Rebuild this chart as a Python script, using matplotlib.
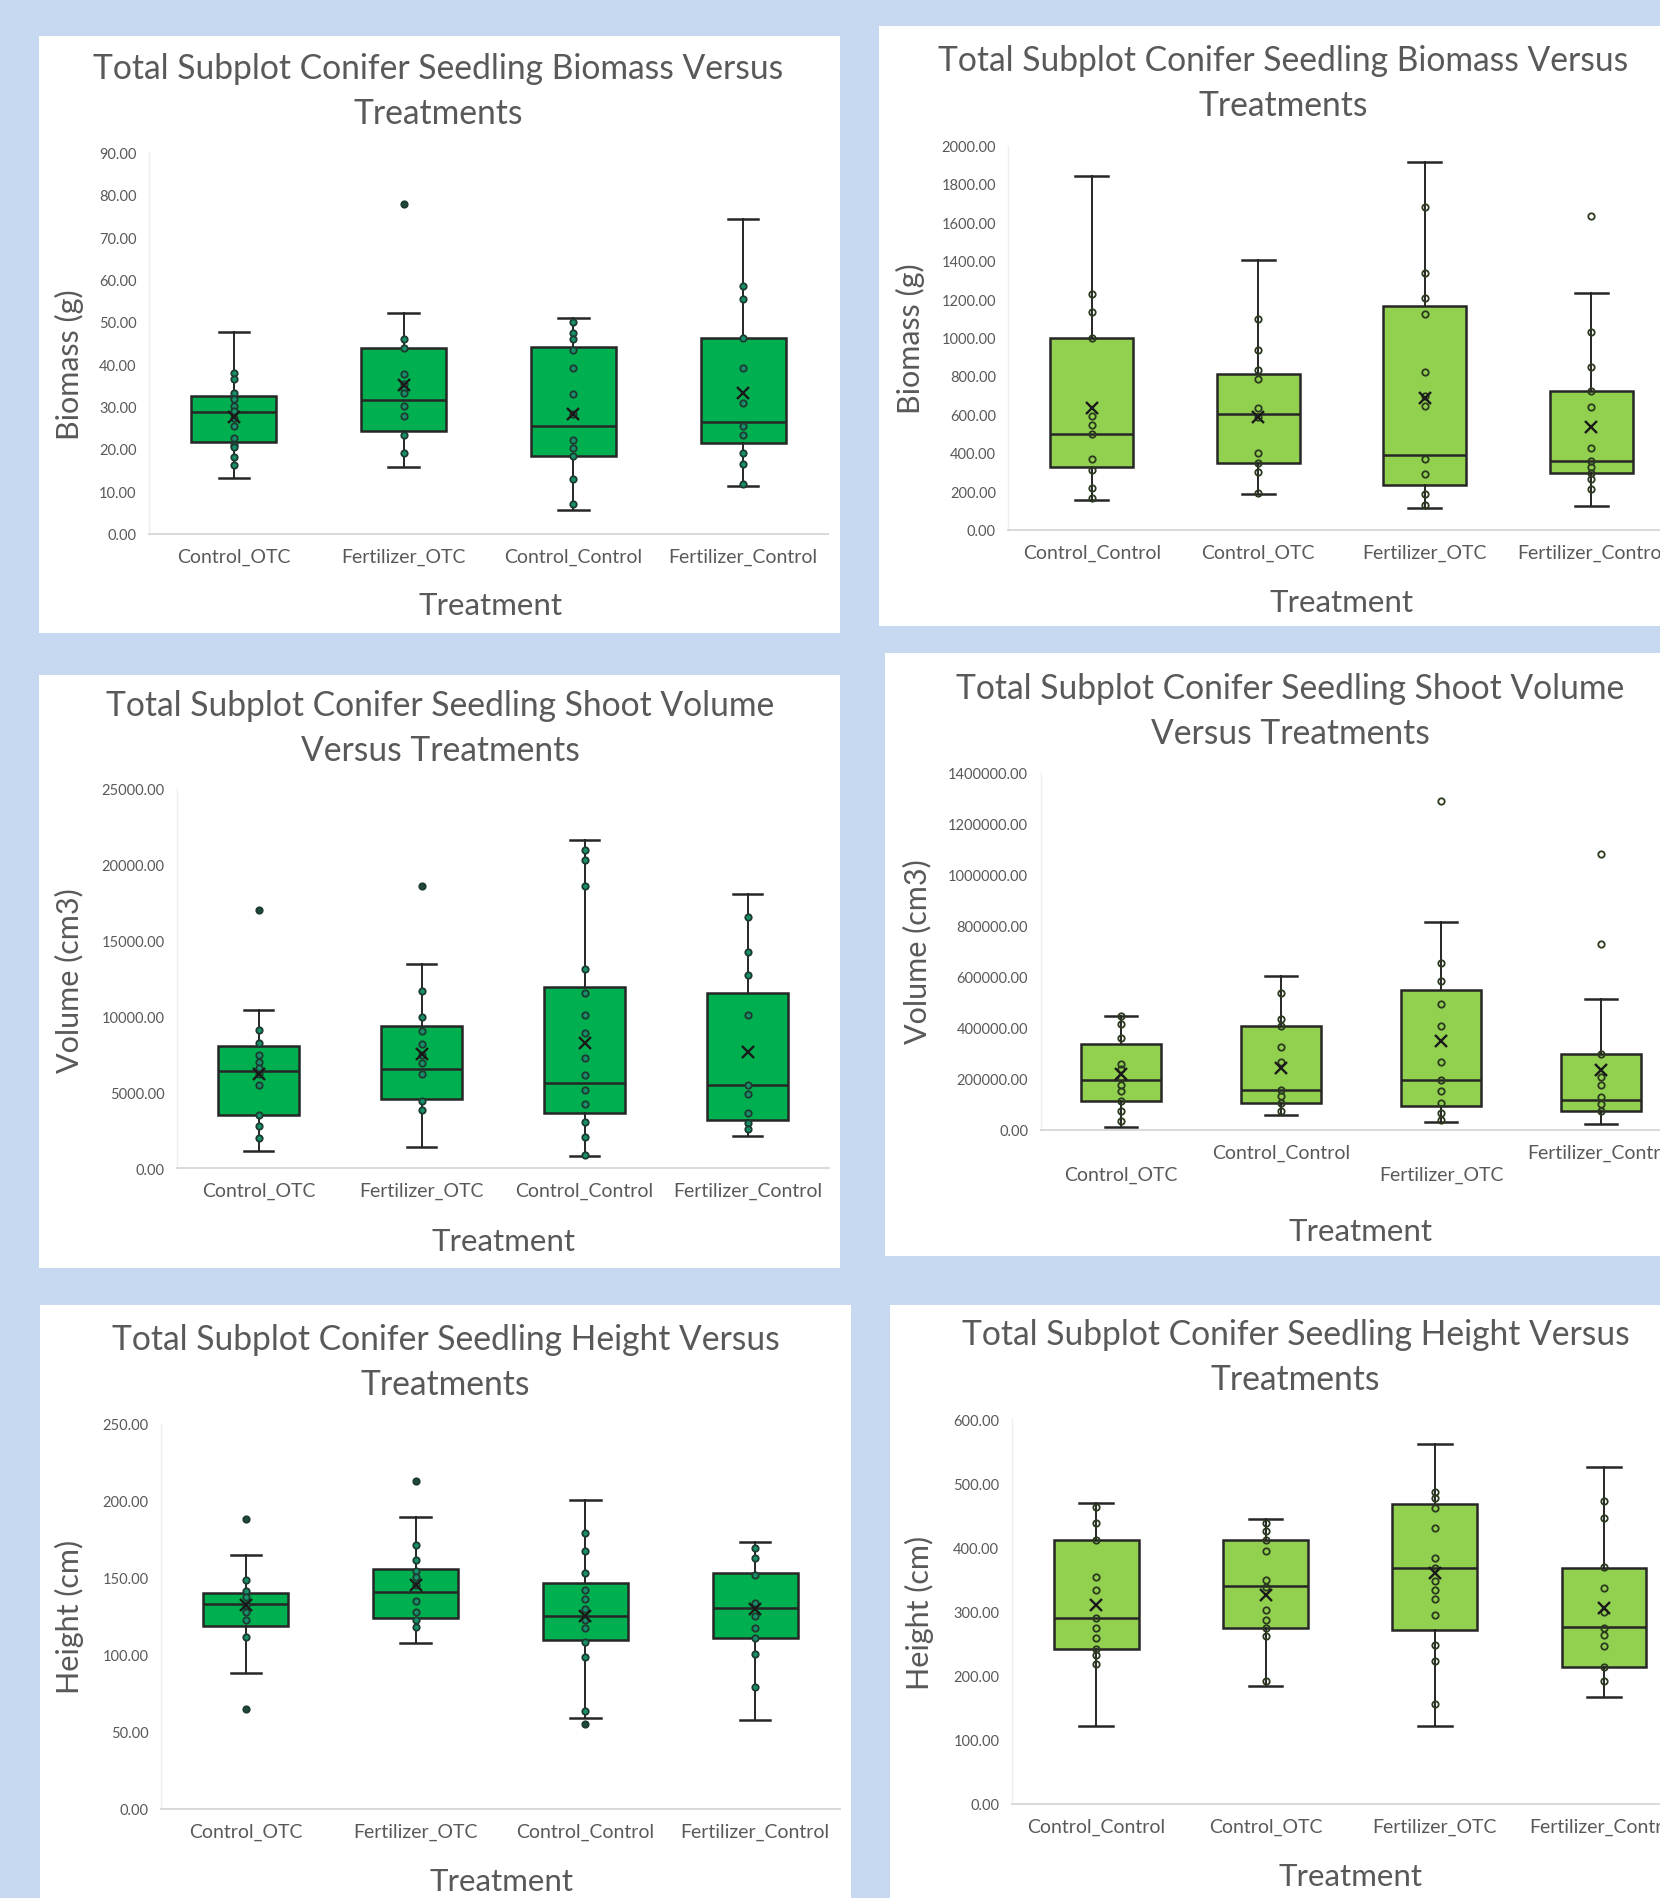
import numpy as np
import matplotlib
matplotlib.use('Agg')
import matplotlib.pyplot as plt
from matplotlib.patches import Rectangle

W, H = 1660, 1899
BG = '#c6d9f0'
TXT = '#595959'
EDGE = '#262626'
DARK = '#00b050'
LIGHT = '#92d050'

plt.rcParams['font.family'] = ['Lato', 'DejaVu Sans']

# ---- panel 1: biomass (left)
cats1 = ['Control_OTC', 'Fertilizer_OTC', 'Control_Control', 'Fertilizer_Control']
lo1 = [13.1, 15.8, 5.5, 11.2]
q1_1 = [21.6, 24.2, 18.4, 21.3]
med1 = [28.7, 31.6, 25.3, 26.4]
q3_1 = [32.4, 43.8, 44.1, 46.1]
hi1 = [47.6, 52.1, 51.0, 74.2]
mean1 = [27.5, 35.1, 28.2, 33.2]
out1 = [[], [77.7], [], []]
pts1 = [[37.9, 36.5, 33.1, 31.8, 30.2, 28.9, 27.3, 25.4, 22.5, 21.0, 20.4, 18.1, 16.3],
        [45.9, 43.8, 37.6, 35.4, 34.2, 33.1, 30.2, 27.7, 23.3, 19.0],
        [50.0, 47.3, 45.9, 43.4, 39.0, 33.0, 28.2, 22.2, 20.2, 18.4, 12.9, 6.9],
        [58.5, 55.5, 46.1, 39.0, 30.9, 25.4, 23.3, 19.0, 16.4, 11.8]]

# ---- panel 2: biomass (right)
cats2 = ['Control_Control', 'Control_OTC', 'Fertilizer_OTC', 'Fertilizer_Control']
lo2 = [152, 186, 111, 120]
q1_2 = [328, 344, 233, 292]
med2 = [500, 602, 389, 359]
q3_2 = [997, 808, 1165, 723]
hi2 = [1842, 1406, 1913, 1230]
mean2 = [632, 588, 683, 535]
out2 = [[], [], [], [1635]]
pts2 = [[1224, 1133, 997, 592, 545, 496, 369, 308, 217, 162],
        [1098, 936, 831, 784, 632, 588, 399, 344, 298, 192],
        [1682, 1337, 1207, 1122, 818, 693, 642, 369, 288, 186, 126],
        [1027, 845, 723, 638, 425, 359, 324, 292, 263, 213]]

# ---- panel 3: shoot volume (left)
cats3 = ['Control_OTC', 'Fertilizer_OTC', 'Control_Control', 'Fertilizer_Control']
lo3 = [1152, 1409, 794, 2126]
q1_3 = [3483, 4558, 3611, 3150]
med3 = [6403, 6556, 5634, 5455]
q3_3 = [8016, 9373, 11909, 11524]
hi3 = [10398, 13420, 21640, 18055]
mean3 = [6223, 7504, 8272, 7632]
out3 = [[16980], [18593], [], []]
pts3 = [[9092, 8272, 7427, 6992, 6607, 6223, 5506, 3534, 2766, 1998],
        [11652, 9937, 9040, 8195, 7427, 6940, 6223, 4430, 3841],
        [20949, 20309, 18567, 13087, 11550, 10116, 8912, 7248, 6146, 5148, 4226, 3073, 2049, 845],
        [16544, 14239, 12702, 10116, 5455, 4866, 3662, 2945, 2587]]

# ---- panel 4: shoot volume (right)
cats4 = ['Control_OTC', 'Control_Control', 'Fertilizer_OTC', 'Fertilizer_Control']
lo4 = [10700, 56500, 30500, 19800]
q1_4 = [111400, 103800, 91600, 73300]
med4 = [193900, 155700, 195400, 117600]
q3_4 = [335900, 404600, 548100, 297700]
hi4 = [447300, 603000, 813700, 511400]
mean4 = [216800, 241200, 346600, 232100]
out4 = [[], [], [1290000], [1079400, 729800]]
pts4 = [[447300, 412000, 359000, 256000, 237000, 202000, 173000, 150000, 111000, 72000, 34000],
        [534000, 435000, 405000, 325000, 264000, 156000, 133000, 104000, 73000],
        [655000, 583000, 493000, 408000, 263000, 195000, 150000, 104000, 66000, 38000],
        [298000, 206000, 173000, 127000, 99000, 72000]]

# ---- panel 5: height (left)
cats5 = ['Control_OTC', 'Fertilizer_OTC', 'Control_Control', 'Fertilizer_Control']
lo5 = [88.0, 107.9, 58.8, 57.5]
q1_5 = [118.6, 123.8, 109.9, 111.1]
med5 = [133.4, 140.6, 125.2, 130.2]
q3_5 = [140.1, 156.0, 146.6, 153.3]
hi5 = [164.9, 189.7, 200.4, 173.6]
mean5 = [132.7, 145.1, 125.2, 129.7]
out5 = [[188.0, 65.2], [212.8], [55.3], []]
pts5 = [[148.8, 141.4, 137.6, 132.7, 127.7, 122.8, 111.6],
        [171.1, 161.7, 154.5, 150.8, 145.1, 135.2, 127.7, 122.8, 118.3],
        [179.1, 167.4, 153.0, 142.1, 136.4, 129.7, 122.8, 117.3, 108.6, 98.7, 63.7],
        [169.4, 163.0, 152.0, 133.9, 125.2, 117.3, 110.9, 100.4, 78.9]]

# ---- panel 6: height (right)
cats6 = ['Control_Control', 'Control_OTC', 'Fertilizer_OTC', 'Fertilizer_Control']
lo6 = [121.5, 184.7, 121.5, 166.2]
q1_6 = [241.3, 274.1, 271.1, 213.9]
med6 = [290.2, 339.6, 367.6, 275.3]
q3_6 = [412.3, 412.3, 467.7, 368.8]
hi6 = [468.9, 445.1, 561.2, 525.5]
mean6 = [311.0, 325.9, 359.9, 306.2]
out6 = [[], [], [], []]
pts6 = [[463, 439, 412, 354, 334, 290, 274, 259, 241, 232, 219],
        [438, 426, 412, 394, 350, 338, 302, 287, 274, 262, 192],
        [486, 478, 461, 430, 384, 368, 348, 334, 320, 294, 248, 223, 156],
        [473, 446, 369, 337, 300, 275, 263, 247, 214, 192]]


fig = plt.figure(figsize=(W / 100, H / 100), dpi=100)
fig.patch.set_facecolor(BG)


def fx(x):
    return x / W


def fy(y):
    return 1 - y / H


def panel(rect, plot, ymax, step, cats, lo, q1, med, q3, hi, mean, out, pts,
          dark, title, ylab, title_pos, ylab_pos, xlab_pos, stagger=False):
    x0, y0, x1, y1 = rect
    fig.add_artist(Rectangle((fx(x0), fy(y1)), (x1 - x0) / W, (y1 - y0) / H,
                             transform=fig.transFigure, fc='white', ec='none', zorder=-5))
    px0, px1, pybot, pytop = plot
    ax = fig.add_axes([fx(px0), fy(pybot), (px1 - px0) / W, (pybot - pytop) / H])
    ax.set_facecolor('none')

    stats = []
    for i in range(len(cats)):
        stats.append(dict(med=med[i], q1=q1[i], q3=q3[i], whislo=lo[i], whishi=hi[i],
                          fliers=out[i], label=cats[i]))
    fill = DARK if dark else LIGHT
    pos = np.arange(1, len(cats) + 1)
    ax.bxp(stats, positions=pos, widths=0.5, capwidths=0.18 if dark else 0.2,
           patch_artist=True, showfliers=False,
           boxprops=dict(facecolor=fill, edgecolor=EDGE, linewidth=1.8),
           medianprops=dict(color=EDGE, linewidth=1.8),
           whiskerprops=dict(color=EDGE, linewidth=1.4),
           capprops=dict(color=EDGE, linewidth=1.8))

    if dark:
        pfc, pec, ofc = '#17916a', '#1d3b31', '#1d4a3c'
    else:
        pfc, pec, ofc = 'none', '#2b3a1f', 'none'
    for i, p in enumerate(pts):
        ax.plot([pos[i]] * len(p), p, 'o', ms=4.6, mfc=pfc, mec=pec, mew=1.3, zorder=4)
        if out[i]:
            ax.plot([pos[i]] * len(out[i]), out[i], 'o', ms=4.6, mfc=ofc, mec=pec,
                    mew=1.3, zorder=4)
    ax.plot(pos, mean, 'x', ms=9, mew=1.7, color='#1a1a1a', zorder=5)

    ax.set_xlim(0.5, len(cats) + 0.5)
    ax.set_ylim(0, ymax)
    yt = np.arange(0, ymax + step / 2, step)
    ax.set_yticks(yt)
    ax.set_yticklabels([f'{v:.2f}' for v in yt], fontsize=10.5, color=TXT)
    ax.set_xticks(pos)
    if stagger:
        labs = ['\n' + c if i % 2 == 0 else c for i, c in enumerate(cats)]
        ax.set_xticklabels(labs, fontsize=14, color=TXT, linespacing=1.35)
    else:
        ax.set_xticklabels(cats, fontsize=14, color=TXT)
    ax.tick_params(axis='both', length=0)
    ax.tick_params(axis='x', pad=10)
    ax.tick_params(axis='y', pad=9)
    for s in ['top', 'right']:
        ax.spines[s].set_visible(False)
    ax.spines['bottom'].set_color('#d9d9d9')
    ax.spines['bottom'].set_linewidth(1.4)
    ax.spines['left'].set_color('#efefef')
    ax.spines['left'].set_linewidth(1.0)

    tx, ty1, ty2 = title_pos
    fig.text(fx(tx), fy(ty1), title[0], ha='center', va='center', fontsize=24.2, color=TXT)
    fig.text(fx(tx), fy(ty2), title[1], ha='center', va='center', fontsize=24.2, color=TXT)
    fig.text(fx(ylab_pos[0]), fy(ylab_pos[1]), ylab, rotation=90, ha='center', va='center',
             fontsize=22, color=TXT)
    fig.text(fx(xlab_pos[0]), fy(xlab_pos[1]), 'Treatment', ha='center', va='center',
             fontsize=22.5, color=TXT)
    return ax


t_bio = ['Total Subplot Conifer Seedling Biomass Versus', 'Treatments']
t_vol = ['Total Subplot Conifer Seedling Shoot Volume', 'Versus Treatments']
t_hgt = ['Total Subplot Conifer Seedling Height Versus', 'Treatments']

panel((39, 37, 840, 634), (149, 828, 534.7, 153.3), 90, 10, cats1,
      lo1, q1_1, med1, q3_1, hi1, mean1, out1, pts1, True, t_bio, 'Biomass (g)',
      (438, 69, 113.7), (69, 364.6), (490, 606))
panel((879, 27, 1700, 627), (1008.4, 1674.7, 530.5, 146.5), 2000, 200, cats2,
      lo2, q1_2, med2, q3_2, hi2, mean2, out2, pts2, False, t_bio, 'Biomass (g)',
      (1283, 60.9, 105.6), (910, 339), (1341, 602.5))
panel((39, 676, 840, 1269), (177, 829, 1169.2, 789.5), 25000, 5000, cats3,
      lo3, q1_3, med3, q3_3, hi3, mean3, out3, pts3, True, t_vol, 'Volume (cm3)',
      (440.6, 705.8, 750.9), (69, 981), (503, 1242))
panel((885, 654, 1700, 1257), (1040.7, 1681.5, 1130.5, 773.7), 1400000, 200000, cats4,
      lo4, q1_4, med4, q3_4, hi4, mean4, out4, pts4, False, t_vol, 'Volume (cm3)',
      (1290.4, 688.9, 733.7), (917, 951.6), (1360, 1231.7), stagger=True)
panel((39.5, 1305.7, 850.5, 1920), (161, 840, 1810, 1424.9), 250, 50, cats5,
      lo5, q1_5, med5, q3_5, hi5, mean5, out5, pts5, True, t_hgt, 'Height (cm)',
      (445.6, 1340, 1384.8), (69.7, 1617), (501, 1882.5))
panel((890, 1305.7, 1700, 1920), (1011.8, 1688.5, 1805, 1420.3), 600, 100, cats6,
      lo6, q1_6, med6, q3_6, hi6, mean6, out6, pts6, False, t_hgt, 'Height (cm)',
      (1295.4, 1335.1, 1380.2), (919.8, 1613), (1350, 1877.5))

fig.savefig('out.png', dpi=100, facecolor=BG)
